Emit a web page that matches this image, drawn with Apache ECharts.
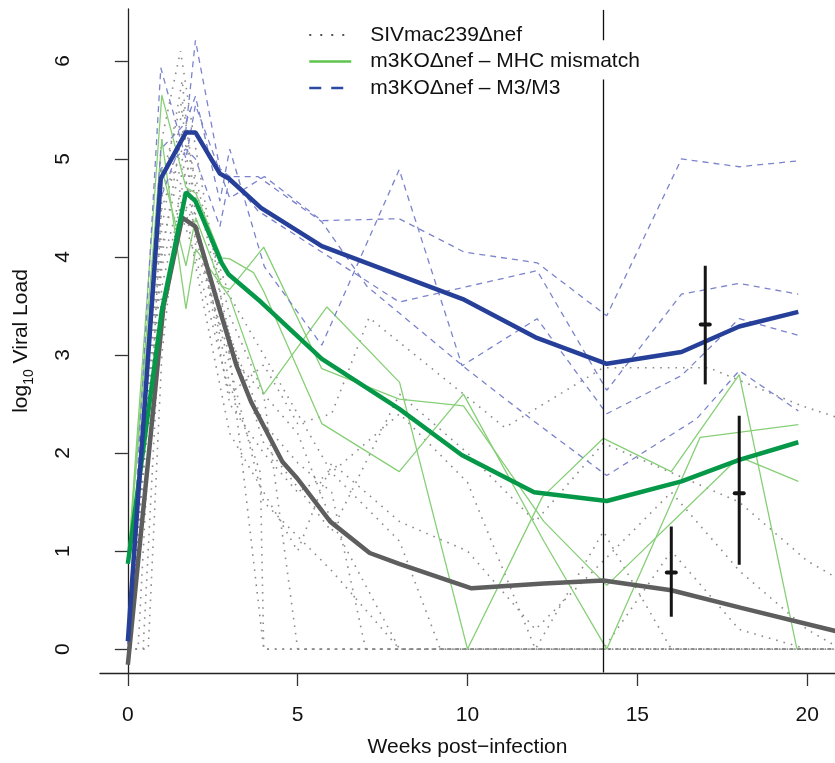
<!DOCTYPE html>
<html>
<head>
<meta charset="utf-8">
<script src="https://cdn.jsdelivr.net/npm/echarts@6/dist/echarts.min.js"></script>
<style>
  html, body { margin: 0; padding: 0; background: #fff; }
  #chart { width: 835px; height: 763px; }
</style>
</head>
<body>
<div id="chart"></div>
<script>
// tick labels
var xTicks = [0, 5, 10, 15, 20];
var yTicks = [0, 1, 2, 3, 4, 5, 6];
var groupNames = ['SIVmac239Δnef', 'm3KOΔnef – MHC mismatch', 'm3KOΔnef – M3/M3'];

// individual animals, [week, log10 viral load]
var sivAnimals = [
  [[0,0],[1,5.2],[1.55,6.1],[2,5.1],[2.6,3.9],[3,3.0],[4,0],[21,0]],
  [[0,0],[0.3,0],[1,4.6],[1.6,5.8],[2,4.4],[3,2.7],[3.9,1.8],[4,0],[21,0]],
  [[0,0],[1,4.0],[1.6,5.3],[2,4.8],[3,3.4],[4,2.6],[5,0],[21,0]],
  [[0,0],[0.45,0],[1,3.7],[1.6,4.6],[2,4.3],[3,3.2],[4,2.3],[5,1.9],[6,1.6],[7,0],[21,0]],
  [[0,0],[1,4.3],[1.6,5.5],[2,4.1],[3,3.0],[4,2.6],[5,2.2],[6,1.3],[8,0],[21,0]],
  [[0,0],[1,3.3],[1.6,4.4],[2,4.0],[3,2.6],[4,2.9],[5,2.3],[6,2.4],[7.1,3.38],[11.1,2.26],[14,2.87],[17.1,2.87],[19.85,2.48],[21,2.35]],
  [[0,0],[1,4.5],[1.6,5.1],[2,4.6],[3,3.6],[4,3.0],[5,2.4],[6,1.8],[8,1.1],[9.2,0],[21,0]],
  [[0,0],[0.6,0],[1,3.0],[1.6,4.9],[2,4.4],[3,2.5],[4,2.0],[5,1.6],[6,1.8],[8,2.4],[10,1.7],[12,0],[14,1.2],[16,0],[21,0]],
  [[0,0],[1,4.8],[1.6,5.6],[2,4.7],[3,3.2],[4,2.1],[6,1.2],[8,2.6],[10,2.0],[12,1.3],[14,2.1],[16,1.8],[18,1.5],[20,0.9],[21,0.7]],
  [[0,0],[1,3.9],[1.6,4.7],[2,3.9],[3,2.2],[4,1.6],[5,1.0],[6,1.9],[8,1.3],[10,1.0],[12,0.2],[14,0.9],[16,1.6],[18,0.8],[20,0.2],[21,0]],
  [[0,0],[1,4.1],[1.6,5.0],[2,4.2],[3,2.9],[4,1.5],[6,0.8],[8,0],[14,0],[16,1.0],[18,0.2],[20,0],[21,0]]
];
var mhcAnimals = [
  [[0,0.87],[1,5.65],[1.71,4.71],[2,4.65],[2.76,3.99],[3,3.98],[3.7,3.84],[4,3.65],[5.71,2.30],[7.99,1.81],[9.88,2.60],[12.25,1.10],[14.1,0],[16.85,2.16],[19.74,2.29]],
  [[0,0.87],[1,5.20],[1.71,3.47],[2,4.08],[3,3.59],[4,2.60],[5.86,3.49],[8,2.72],[10,0],[12.2,1.55],[14,2.15],[16,1.81],[18,2.8],[19.7,0]],
  [[0,0.87],[1,4.9],[1.71,3.91],[2,4.4],[2.76,3.70],[3,3.67],[4,4.10],[5.71,2.86],[7.99,2.55],[9.88,2.48],[12.25,1.30],[14.1,0.65],[18,1.96],[19.74,1.71]]
];
var m3Animals = [
  [[0,0.1],[0.97,5.93],[1.71,5.0],[1.99,5.55],[3.0,4.6],[4.02,4.82],[5.71,4.37],[7.99,4.39],[9.9,4.05],[12.05,3.94],[14.1,3.40],[16.3,5.0],[18,4.92],[19.74,4.98]],
  [[0,0.05],[0.97,4.6],[1.71,5.3],[1.99,6.21],[2.71,4.9],[3.0,4.82],[3.83,4.47],[7.99,3.54],[12.05,3.86],[14.1,2.64],[16.3,3.62],[18,3.73],[19.74,3.62]],
  [[0,0.1],[0.97,5.1],[1.71,5.37],[1.99,5.64],[2.71,4.57],[3.0,5.10],[4.02,3.9],[5.71,3.10],[7.99,4.89],[9.84,2.89],[12.05,3.37],[14.1,2.40],[16.3,2.79],[18,3.37],[19.74,3.20]],
  [[0,0.05],[0.97,4.9],[1.71,5.1],[1.99,5.0],[2.71,4.31],[3.0,4.82],[3.83,4.82],[5.71,4.36],[7.04,3.70],[10,2.85],[12.05,2.3],[14.1,1.77],[16.75,2.35],[18,2.84],[19.74,2.43]]
];

// group means
var sivMean = [[0,-0.16],[1.05,3.5],[1.6,4.4],[1.99,4.31],[2.61,3.57],[3.2,2.89],[3.63,2.52],[4.55,1.91],[4.99,1.74],[5.96,1.30],[7.12,0.98],[7.99,0.87],[10.12,0.62],[12.25,0.67],[14.0,0.70],[16.0,0.60],[18.06,0.42],[20.53,0.21],[21,0.17]];
var mhcMean = [[0,0.87],[1,3.45],[1.71,4.66],[1.99,4.57],[2.76,3.94],[2.97,3.82],[3.92,3.54],[5.71,2.96],[7.99,2.45],[9.83,1.98],[11.96,1.60],[14.1,1.51],[16.3,1.71],[18,1.93],[19.74,2.11]];
var m3Mean = [[0,0.08],[0.97,4.80],[1.71,5.27],[1.99,5.27],[2.71,4.85],[2.97,4.80],[3.92,4.50],[5.71,4.11],[9.86,3.57],[12.0,3.18],[14.1,2.91],[16.3,3.03],[18,3.29],[19.74,3.44]];

// error bars: week, low, high, centre
var errBars = [[16,0.33,1.25,0.78],[17,2.70,3.91,3.31],[18,0.86,2.38,1.59]];
var cutWeek = 14;

var chart = echarts.init(document.getElementById('chart'));
var FONT = 'Liberation Sans';
var series = [];

sivAnimals.forEach(function(d){
  series.push({name: groupNames[0], type: 'line', data: d, symbol: 'none', z: 2,
    lineStyle: {color: '#8c8c8c', width: 1.6, type: [1.6, 6]}});
});
mhcAnimals.forEach(function(d){
  series.push({name: groupNames[1], type: 'line', data: d, symbol: 'none', z: 3,
    lineStyle: {color: '#86cf76', width: 1.3}});
});
m3Animals.forEach(function(d){
  series.push({name: groupNames[2], type: 'line', data: d, symbol: 'none', z: 3,
    lineStyle: {color: '#7b83cc', width: 1.3, type: [6, 5]}});
});

// thick means
series.push({name: 'siv mean', type: 'line', data: sivMean, symbol: 'none', z: 5,
  lineStyle: {color: '#5e5e5e', width: 4.5}});
series.push({name: 'mhc mean', type: 'line', data: mhcMean, symbol: 'none', z: 5,
  lineStyle: {color: '#059848', width: 4.5}});
series.push({name: 'm3 mean', type: 'line', data: m3Mean, symbol: 'none', z: 5,
  lineStyle: {color: '#263f98', width: 4.5},
  markLine: {
    silent: true, symbol: 'none', label: {show: false},
    lineStyle: {color: '#111', width: 1.3, type: 'solid'},
    data: [
      [{coord: [cutWeek, 6.52]}, {coord: [cutWeek, 6.21]}],
      [{coord: [cutWeek, 5.81]}, {coord: [cutWeek, -0.24]}]
    ]
  }});

// error bars
series.push({
  name: 'err', type: 'custom', data: errBars, z: 8,
  encode: {x: 0, y: [1, 2, 3]},
  renderItem: function(params, api){
    var lo = api.coord([api.value(0), api.value(1)]);
    var hi = api.coord([api.value(0), api.value(2)]);
    var c = api.coord([api.value(0), api.value(3)]);
    return {type: 'group', children: [
      {type: 'line', shape: {x1: lo[0], y1: lo[1], x2: hi[0], y2: hi[1]},
        style: {stroke: '#151515', lineWidth: 3}},
      {type: 'line', shape: {x1: c[0]-4.5, y1: c[1], x2: c[0]+4.5, y2: c[1]},
        style: {stroke: '#151515', lineWidth: 4, lineCap: 'round'}}
    ]};
  }
});

var option = {
  animation: false,
  backgroundColor: '#fff',
  textStyle: {fontFamily: FONT},
  grid: {left: 100, top: 9, right: -10, bottom: 88},
  legend: {
    orient: 'vertical', left: 303, top: 19.5, align: 'left',
    itemWidth: 42, itemHeight: 14, itemGap: 5.5,
    itemStyle: {opacity: 0},
    textStyle: {fontFamily: FONT, fontSize: 21, color: '#111', lineHeight: 21, padding: [0, 0, 0, 14]},
    data: [
      {name: groupNames[0], itemStyle: {opacity: 0}, lineStyle: {color: '#555', width: 2, type: [2, 9]}},
      {name: groupNames[1], itemStyle: {opacity: 0}, lineStyle: {color: '#5ec44d', width: 2.5}},
      {name: groupNames[2], itemStyle: {opacity: 0}, lineStyle: {color: '#2d4aa2', width: 2.5, type: [12, 10]}}
    ]
  },
  xAxis: {
    type: 'value', min: -0.82, max: 20.82,
    name: 'Weeks post−infection', nameLocation: 'middle', nameGap: 64,
    nameTextStyle: {fontFamily: FONT, fontSize: 21, color: '#111'},
    axisLine: {show: true, onZero: false, lineStyle: {color: '#222', width: 1.3}},
    axisTick: {show: true, length: 13, customValues: xTicks, lineStyle: {color: '#333', width: 1.3}},
    axisLabel: {customValues: xTicks, margin: 32, fontSize: 21, color: '#111', fontFamily: FONT},
    splitLine: {show: false}
  },
  yAxis: {
    type: 'value', min: -0.244, max: 6.529,
    name: '{a|log}{s|10}{a| Viral Load}', nameLocation: 'middle', nameGap: 64, nameRotate: 90,
    nameTextStyle: {
      fontFamily: FONT, color: '#111',
      rich: {
        a: {fontSize: 21, fontFamily: FONT, color: '#111', lineHeight: 30},
        s: {fontSize: 14, fontFamily: FONT, color: '#111', lineHeight: 14, verticalAlign: 'bottom'}
      }
    },
    axisLine: {show: true, lineStyle: {color: '#222', width: 1.3}},
    axisTick: {show: true, length: 13, customValues: yTicks, lineStyle: {color: '#333', width: 1.3}},
    axisLabel: {customValues: yTicks, rotate: 90, margin: 26, fontSize: 21, color: '#111', fontFamily: FONT},
    splitLine: {show: false}
  },
  series: series
};
chart.setOption(option);
window.addEventListener('resize', function(){ chart.resize(); });
</script>
</body>
</html>
